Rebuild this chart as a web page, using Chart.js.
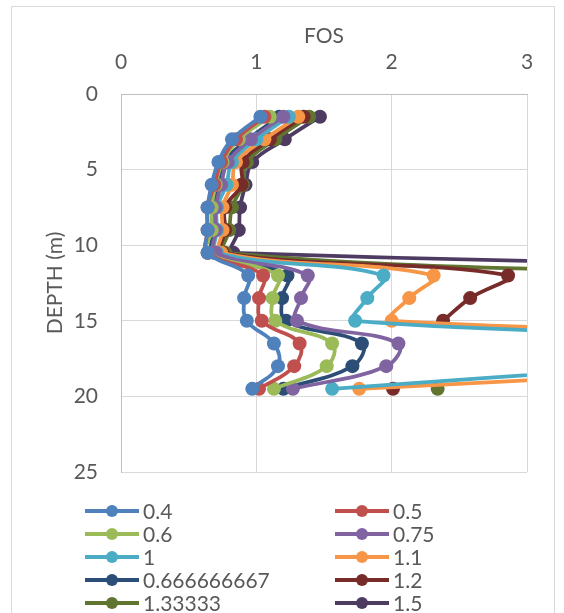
<!DOCTYPE html>
<html>
<head>
<meta charset="utf-8">
<script src="https://cdn.jsdelivr.net/npm/chart.js@4.4.0/dist/chart.umd.min.js"></script>
<style>
  html, body { margin: 0; padding: 0; background: #fff; }
</style>
</head>
<body>
<canvas id="fosChart" width="564" height="613"></canvas>
<script>
  // depth of each point (m)
  const depth = [1.5, 3, 4.5, 6, 7.5, 9, 10.5, 12, 13.5, 15, 16.5, 18, 19.5];

  // FOS per series (values beyond 3 are clipped)
  const fos04 = [1.03, 0.82, 0.72, 0.67, 0.64, 0.64, 0.64, 0.94, 0.91, 0.93, 1.13, 1.16, 0.97];
  const fos05 = [1.06, 0.85, 0.74, 0.69, 0.64, 0.64, 0.64, 1.05, 1.02, 1.04, 1.32, 1.28, 1.02];
  const fos06 = [1.10, 0.87, 0.75, 0.70, 0.67, 0.67, 0.64, 1.16, 1.12, 1.14, 1.56, 1.52, 1.13];
  const fos075 = [1.20, 0.96, 0.79, 0.74, 0.70, 0.70, 0.70, 1.38, 1.33, 1.30, 2.05, 1.96, 1.27];
  const fos1 = [1.24, 1.00, 0.82, 0.78, 0.71, 0.71, 0.71, 1.94, 1.82, 1.73, 6.0, 3.9, 1.56];
  const fos11 = [1.31, 1.06, 0.85, 0.82, 0.75, 0.75, 0.74, 2.31, 2.13, 2.00, 8.0, 5.0, 1.76];
  const fos0667 = [1.17, 0.94, 0.76, 0.72, 0.69, 0.68, 0.69, 1.23, 1.19, 1.22, 1.78, 1.71, 1.20];
  const fos12 = [1.35, 1.10, 0.90, 0.89, 0.77, 0.77, 0.75, 2.86, 2.58, 2.38, null, null, 2.01];
  const fos1333 = [1.39, 1.14, 0.93, 0.90, 0.82, 0.80, 0.77, 4.5, null, null, null, null, 2.34];
  const fos15 = [1.47, 1.21, 0.97, 0.92, 0.88, 0.87, 0.83, 11.0, null, null, null, null, null];

  const seriesNames = ["0.4", "0.5", "0.6", "0.75", "1", "1.1", "0.666666667", "1.2", "1.33333", "1.5"];
  const seriesValues = [fos04, fos05, fos06, fos075, fos1, fos11, fos0667, fos12, fos1333, fos15];
  const seriesColors = ["#4F81BD", "#C0504D", "#9BBB59", "#8064A2", "#4BACC6",
                        "#F79646", "#2C4D75", "#772C2A", "#5F7530", "#4D3B62"];

  const xTicks = [0, 1, 2, 3];
  const yTicks = [0, 5, 10, 15, 20, 25];

  const textColor = "#595959";
  const fontFamily = "Lato, 'Open Sans', sans-serif";
  const fontSize = 21;

  const datasets = seriesNames.map((name, i) => ({
    label: name,
    data: depth.map((d, j) => ({ x: seriesValues[i][j], y: d })),
    borderColor: seriesColors[i],
    backgroundColor: seriesColors[i],
    borderWidth: 3.75,
    pointRadius: 7,
    pointHoverRadius: 7,
    pointBorderWidth: 0,
    showLine: true,
    tension: 0.4,
    spanGaps: false,
  }));

  // white background and the outer chart frame
  const framePlugin = {
    id: "frame",
    beforeDraw(chart) {
      const ctx = chart.ctx;
      ctx.save();
      ctx.fillStyle = "#fff";
      ctx.fillRect(0, 0, chart.width, chart.height);
      ctx.strokeStyle = "#D9D9D9";
      ctx.lineWidth = 1;
      ctx.strokeRect(11.5, 6.5, 543, 700);
      ctx.restore();
    },
  };

  // two-column legend like the Excel one
  const legendPlugin = {
    id: "twoColLegend",
    afterDraw(chart) {
      const ctx = chart.ctx;
      ctx.save();
      ctx.font = fontSize + "px " + fontFamily;
      ctx.textBaseline = "middle";
      ctx.textAlign = "left";
      chart.data.datasets.forEach((ds, i) => {
        const col = i % 2;
        const row = Math.floor(i / 2);
        const x0 = col === 0 ? 85 : 335;
        const y = 511 + row * 23;
        ctx.strokeStyle = ds.borderColor;
        ctx.lineWidth = 4;
        ctx.beginPath();
        ctx.moveTo(x0, y);
        ctx.lineTo(x0 + 54, y);
        ctx.stroke();
        ctx.fillStyle = ds.backgroundColor;
        ctx.beginPath();
        ctx.arc(x0 + 27, y, 6, 0, Math.PI * 2);
        ctx.fill();
        ctx.fillStyle = textColor;
        ctx.fillText(ds.label, x0 + 58, y + 1);
      });
      ctx.restore();
    },
  };

  new Chart(document.getElementById("fosChart"), {
    type: "scatter",
    data: { datasets: datasets },
    plugins: [framePlugin, legendPlugin],
    options: {
      responsive: false,
      animation: false,
      devicePixelRatio: 1,
      layout: { padding: { left: 0, right: 37, top: 0, bottom: 141 } },
      plugins: {
        legend: { display: false },
        tooltip: { enabled: false },
      },
      scales: {
        x: {
          type: "linear",
          position: "top",
          min: xTicks[0],
          max: xTicks[xTicks.length - 1],
          afterBuildTicks: (scale) => { scale.ticks = xTicks.map((v) => ({ value: v })); },
          afterFit: (scale) => { scale.height = 94; },
          ticks: { color: textColor, font: { family: fontFamily, size: fontSize }, padding: 19 },
          grid: { color: "#D9D9D9", lineWidth: 1, drawTicks: false },
          border: { color: "#BFBFBF" },
          title: {
            display: true,
            text: "FOS",
            color: textColor,
            font: { family: fontFamily, size: fontSize },
            padding: { top: 24 },
          },
        },
        y: {
          type: "linear",
          reverse: true,
          min: yTicks[0],
          max: yTicks[yTicks.length - 1],
          afterBuildTicks: (scale) => { scale.ticks = yTicks.map((v) => ({ value: v })); },
          afterFit: (scale) => { scale.width = 121; },
          ticks: { color: textColor, font: { family: fontFamily, size: fontSize }, padding: 23 },
          grid: { color: "#D9D9D9", lineWidth: 1, drawTicks: false },
          border: { color: "#BFBFBF" },
          title: {
            display: true,
            text: "DEPTH (m)",
            color: textColor,
            font: { family: fontFamily, size: fontSize },
            padding: { top: 43 },
          },
        },
      },
    },
  });
</script>
</body>
</html>
